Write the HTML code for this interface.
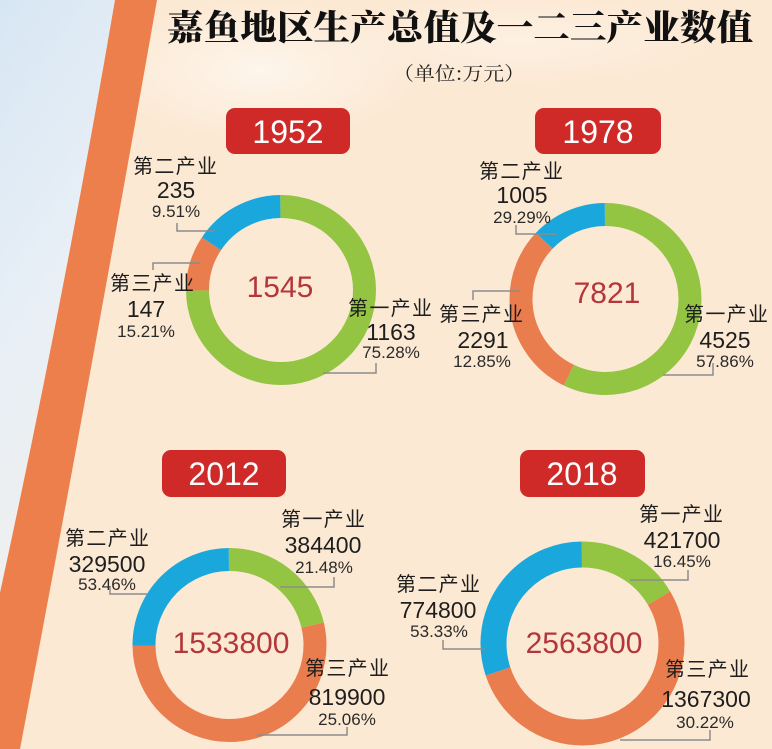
<!DOCTYPE html>
<html><head><meta charset="utf-8"><style>
html,body{margin:0;padding:0;background:#fce9d4;}
svg{display:block;}
.lb{font-family:"Liberation Sans","Noto Sans CJK SC",sans-serif;font-size:20px;fill:#1e1e1e;text-anchor:middle;}
.nm{font-family:"Liberation Sans","Noto Sans CJK SC",sans-serif;font-size:23px;fill:#1e1e1e;text-anchor:middle;}
.pc{font-family:"Liberation Sans","Noto Sans CJK SC",sans-serif;font-size:17px;fill:#2a2a2a;text-anchor:middle;}
.ct{font-family:"Liberation Sans",sans-serif;font-size:30px;fill:#b3373a;text-anchor:middle;}
.yr{font-family:"Liberation Sans",sans-serif;font-size:32px;fill:#ffffff;text-anchor:middle;}
.ld{fill:none;stroke:#8c8c8c;stroke-width:1.5;}
</style></head><body>
<svg width="772" height="749" viewBox="0 0 772 749" xmlns="http://www.w3.org/2000/svg">
<defs>
<linearGradient id="lb" x1="0" y1="0" x2="0.3" y2="1">
<stop offset="0" stop-color="#d5e5f3"/><stop offset="0.5" stop-color="#e8eff6"/><stop offset="1" stop-color="#f3efe9"/>
</linearGradient>
<radialGradient id="gl" cx="0.5" cy="0.5" r="0.5">
<stop offset="0" stop-color="#ffffff" stop-opacity="0.55"/><stop offset="1" stop-color="#ffffff" stop-opacity="0"/>
</radialGradient>
</defs>
<rect x="0" y="0" width="772" height="749" fill="#fce9d4"/>
<ellipse cx="260" cy="70" rx="160" ry="70" fill="url(#gl)"/>
<ellipse cx="520" cy="40" rx="200" ry="45" fill="url(#gl)" opacity="0.6"/>
<path d="M0,0 L115,0 Q50,380 -35,749 L0,749 Z" fill="url(#lb)"/>
<path d="M115,0 L157,0 Q90,380 20,749 L-35,749 Q50,380 115,0 Z" fill="#ec7f4c"/>

<!-- Title -->
<text x="167" y="40" textLength="586" lengthAdjust="spacingAndGlyphs" style="font-family:'Noto Serif CJK SC','Noto Sans CJK SC',serif;font-weight:900;font-size:35px;fill:#111;">嘉鱼地区生产总值及一二三产业数值</text>
<text x="393" y="80" textLength="132" lengthAdjust="spacingAndGlyphs" style="font-family:'Noto Serif CJK SC','Noto Sans CJK SC',serif;font-size:19px;fill:#222;">（单位:万元）</text>

<!-- Badges -->
<rect x="226" y="108" width="124" height="46" rx="9" fill="#cf2a28"/>
<text class="yr" x="288" y="143">1952</text>
<rect x="535" y="108" width="126" height="46" rx="9" fill="#cf2a28"/>
<text class="yr" x="598" y="143">1978</text>
<rect x="162" y="450" width="124" height="47" rx="9" fill="#cf2a28"/>
<text class="yr" x="224" y="485">2012</text>
<rect x="520" y="450" width="125" height="47" rx="9" fill="#cf2a28"/>
<text class="yr" x="582" y="485">2018</text>

<!-- 1952 donut -->
<g transform="rotate(-90 281 290)" fill="none" stroke-width="23">
<circle cx="281" cy="290" r="83.5" pathLength="360" stroke="#93c543" stroke-dasharray="270 90"/>
<circle cx="281" cy="290" r="83.5" pathLength="360" stroke="#ea7d4e" stroke-dasharray="34 326" stroke-dashoffset="-270"/>
<circle cx="281" cy="290" r="83.5" pathLength="360" stroke="#1aa7dc" stroke-dasharray="56 304" stroke-dashoffset="-304"/>
</g>
<text class="ct" x="280" y="297">1545</text>
<path class="ld" d="M177 223 V231 H215"/>
<path class="ld" d="M153 270 V263 H200"/>
<path class="ld" d="M376 363 V373 H323"/>
<text class="lb" x="175" y="173" textLength="84" lengthAdjust="spacing">第二产业</text>
<text class="nm" x="176" y="198">235</text>
<text class="pc" x="176" y="217">9.51%</text>
<text class="lb" x="152" y="290" textLength="84" lengthAdjust="spacing">第三产业</text>
<text class="nm" x="146" y="317">147</text>
<text class="pc" x="146" y="337">15.21%</text>
<text class="lb" x="390" y="315" textLength="84" lengthAdjust="spacing">第一产业</text>
<text class="nm" x="391" y="340">1163</text>
<text class="pc" x="391" y="358">75.28%</text>

<!-- 1978 donut -->
<g transform="rotate(-90 605.5 299)" fill="none" stroke-width="23">
<circle cx="605.5" cy="299" r="84.5" pathLength="360" stroke="#93c543" stroke-dasharray="206 154"/>
<circle cx="605.5" cy="299" r="84.5" pathLength="360" stroke="#ea7d4e" stroke-dasharray="108 252" stroke-dashoffset="-206"/>
<circle cx="605.5" cy="299" r="84.5" pathLength="360" stroke="#1aa7dc" stroke-dasharray="46 314" stroke-dashoffset="-314"/>
</g>
<text class="ct" x="607" y="303">7821</text>
<path class="ld" d="M516 225 V234 H557"/>
<path class="ld" d="M473 300 V291 H520"/>
<path class="ld" d="M713 363 V375 H663"/>
<text class="lb" x="521" y="178" textLength="84" lengthAdjust="spacing">第二产业</text>
<text class="nm" x="522" y="203">1005</text>
<text class="pc" x="522" y="223">29.29%</text>
<text class="lb" x="481" y="321" textLength="84" lengthAdjust="spacing">第三产业</text>
<text class="nm" x="483" y="348">2291</text>
<text class="pc" x="482" y="367">12.85%</text>
<text class="lb" x="726" y="321" textLength="84" lengthAdjust="spacing">第一产业</text>
<text class="nm" x="725" y="348">4525</text>
<text class="pc" x="725" y="367">57.86%</text>

<!-- 2012 donut -->
<g transform="rotate(-90 229.5 645)" fill="none" stroke-width="23">
<circle cx="229.5" cy="645" r="85.5" pathLength="360" stroke="#93c543" stroke-dasharray="76.6 283.4"/>
<circle cx="229.5" cy="645" r="85.5" pathLength="360" stroke="#ea7d4e" stroke-dasharray="193.4 166.6" stroke-dashoffset="-76.6"/>
<circle cx="229.5" cy="645" r="85.5" pathLength="360" stroke="#1aa7dc" stroke-dasharray="90 270" stroke-dashoffset="-270"/>
</g>
<text class="ct" x="231" y="653">1533800</text>
<path class="ld" d="M110 588 V594 H148"/>
<path class="ld" d="M334 577 V587 H280"/>
<path class="ld" d="M347 727 V735 H257"/>
<text class="lb" x="107" y="545" textLength="84" lengthAdjust="spacing">第二产业</text>
<text class="nm" x="107" y="572">329500</text>
<text class="pc" x="107" y="590">53.46%</text>
<text class="lb" x="323" y="526" textLength="84" lengthAdjust="spacing">第一产业</text>
<text class="nm" x="323" y="553">384400</text>
<text class="pc" x="324" y="573">21.48%</text>
<text class="lb" x="347" y="675" textLength="84" lengthAdjust="spacing">第三产业</text>
<text class="nm" x="347" y="705">819900</text>
<text class="pc" x="347" y="725">25.06%</text>

<!-- 2018 donut -->
<g transform="rotate(-90 582.5 643.5)" fill="none" stroke-width="26">
<circle cx="582.5" cy="643.5" r="89" pathLength="360" stroke="#93c543" stroke-dasharray="59.4 300.6"/>
<circle cx="582.5" cy="643.5" r="89" pathLength="360" stroke="#ea7d4e" stroke-dasharray="192.6 167.4" stroke-dashoffset="-59.4"/>
<circle cx="582.5" cy="643.5" r="89" pathLength="360" stroke="#1aa7dc" stroke-dasharray="108 252" stroke-dashoffset="-252"/>
</g>
<text class="ct" x="584" y="653">2563800</text>
<path class="ld" d="M688 570 V580 H630"/>
<path class="ld" d="M443 640 V649 H485"/>
<path class="ld" d="M710 730 V740 H620"/>
<text class="lb" x="681" y="521" textLength="84" lengthAdjust="spacing">第一产业</text>
<text class="nm" x="682" y="548">421700</text>
<text class="pc" x="682" y="567">16.45%</text>
<text class="lb" x="438" y="591" textLength="84" lengthAdjust="spacing">第二产业</text>
<text class="nm" x="438" y="618">774800</text>
<text class="pc" x="439" y="637">53.33%</text>
<text class="lb" x="707" y="676" textLength="84" lengthAdjust="spacing">第三产业</text>
<text class="nm" x="706" y="707">1367300</text>
<text class="pc" x="705" y="728">30.22%</text>
</svg>
</body></html>
